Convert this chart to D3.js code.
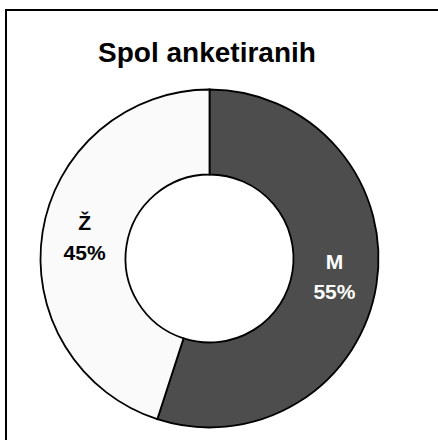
<!DOCTYPE html>
<html>
<head>
<meta charset="utf-8">
<script src="https://d3js.org/d3.v7.min.js"></script>
<style>
  body { margin: 0; background: #fff; }
  text { font-family: Arial, "Liberation Sans", sans-serif; font-weight: bold; }
</style>
</head>
<body>
<div id="chart"></div>
<script>
var svgWidth = 438;
var svgHeight = 440;

// data
var categories = ["M", "Ž"];
var values = [55, 45];
var colors = ["#4d4d4d", "#fafafa"];
var labelColors = ["#ffffff", "#000000"];

var center = { x: 209.5, y: 258.5 };
var outerRadius = 169;
var innerRadius = 84;

var svg = d3
  .select("#chart")
  .append("svg")
  .attr("width", svgWidth)
  .attr("height", svgHeight);

// chart frame (right and bottom edges run off the picture)
svg.append("rect")
  .attr("x", 6)
  .attr("y", 10)
  .attr("width", 500)
  .attr("height", 500)
  .attr("fill", "none")
  .attr("stroke", "#000")
  .attr("stroke-width", 2);

// title
svg.append("text")
  .attr("x", 207)
  .attr("y", 62)
  .attr("text-anchor", "middle")
  .attr("font-size", "28px")
  .attr("fill", "#000")
  .text("Spol anketiranih");

var data = categories.map(function(c, i) {
  return { name: c, value: values[i] };
});

var pie = d3.pie()
  .sort(null)
  .value(d => d.value);

var arc = d3.arc()
  .innerRadius(innerRadius)
  .outerRadius(outerRadius);

var chartGroup = svg.append("g")
  .attr("transform", `translate(${center.x}, ${center.y})`);

var arcs = pie(data);

chartGroup.selectAll("path")
  .data(arcs)
  .enter()
  .append("path")
  .attr("d", arc)
  .attr("fill", (d, i) => colors[i])
  .attr("stroke", "#000")
  .attr("stroke-width", 1.8);

// labels: name and percentage at the slice centroid
var labels = chartGroup.selectAll(".label")
  .data(arcs)
  .enter()
  .append("text")
  .attr("class", "label")
  .attr("text-anchor", "middle")
  .attr("font-size", "21px")
  .attr("fill", (d, i) => labelColors[i])
  .attr("transform", d => `translate(${arc.centroid(d)})`);

labels.append("tspan")
  .attr("x", 0)
  .attr("y", -9)
  .text(d => d.data.name);

labels.append("tspan")
  .attr("x", 0)
  .attr("y", 21)
  .text(d => d.data.value + "%");
</script>
</body>
</html>
